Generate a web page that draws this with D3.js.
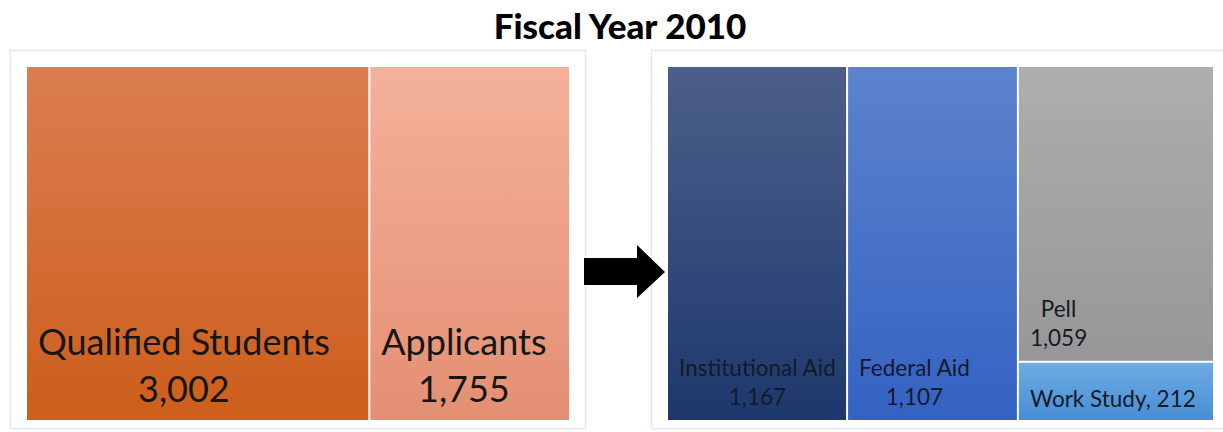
<!DOCTYPE html>
<html>
<head>
<meta charset="utf-8">
<script src="https://cdn.jsdelivr.net/npm/d3@7"></script>
<style>
  html, body { margin: 0; padding: 0; background: #ffffff; }
  svg { display: block; }
</style>
</head>
<body>
<svg id="chart" width="1223" height="432"></svg>
<script>
// Fiscal year 2010: students and the aid they received
const titleText = "Fiscal Year 2010";

const studentNames  = ["Qualified Students", "Applicants"];
const studentValues = [3002, 1755];
const studentTop    = ["#db7d51", "#f4b19a"];
const studentBottom = ["#cd5e1b", "#e48f73"];

const aidNames  = ["Institutional Aid", "Federal Aid", "Pell", "Work Study"];
const aidValues = [1167, 1107, 1059, 212];
const aidGroup  = [null, null, "Grants", "Grants"];   // Pell and Work Study share a column
const aidTop    = ["#4c5f8a", "#5d83cc", "#aeaeae", "#6eace4"];
const aidBottom = ["#1d386d", "#3462c3", "#979797", "#478dd5"];

const fmt = d3.format(",");
const svg = d3.select("#chart");
const defs = svg.append("defs");

// Title
svg.append("text")
  .attr("x", 620).attr("y", 39)
  .attr("text-anchor", "middle")
  .style("font-family", "Lato, 'Noto Sans', sans-serif")
  .style("font-weight", 900)
  .style("font-size", "35px")
  .attr("fill", "#000")
  .text(titleText);

// Panel frames
const panels = [
  { x: 10, y: 50, w: 575, h: 378 },
  { x: 651, y: 50, w: 580, h: 378 }
];
svg.selectAll("rect.panel").data(panels).join("rect")
  .attr("class", "panel")
  .attr("x", d => d.x + 0.5).attr("y", d => d.y + 0.5)
  .attr("width", d => d.w).attr("height", d => d.h)
  .attr("fill", "#fff").attr("stroke", "#e3e7ee").attr("stroke-width", 1.5);

function gradient(id, top, bottom) {
  const g = defs.append("linearGradient").attr("id", id)
    .attr("x1", 0).attr("y1", 0).attr("x2", 0).attr("y2", 1);
  g.append("stop").attr("offset", "0%").attr("stop-color", top);
  g.append("stop").attr("offset", "100%").attr("stop-color", bottom);
  return `url(#${id})`;
}

// Columns first, then stacked rows inside a group
function tile(node, x0, y0, x1, y1) {
  if (node.depth === 0) d3.treemapDice(node, x0, y0, x1, y1);
  else d3.treemapSlice(node, x0, y0, x1, y1);
}

// ---- Left treemap: qualified students vs applicants
const studentRoot = d3.hierarchy({
  children: studentNames.map((n, i) => ({ name: n, value: studentValues[i], i }))
}).sum(d => d.value || 0);

d3.treemap().size([542, 353]).paddingInner(2).tile(tile)(studentRoot);

const gLeft = svg.append("g").attr("transform", "translate(27,67)");
const leftCells = gLeft.selectAll("g").data(studentRoot.leaves()).join("g")
  .attr("transform", d => `translate(${d.x0},${d.y0})`);

leftCells.append("rect")
  .attr("width", d => d.x1 - d.x0).attr("height", d => d.y1 - d.y0)
  .attr("fill", d => gradient("gs" + d.data.i, studentTop[d.data.i], studentBottom[d.data.i]));

const bigFont = { family: "Lato, 'Noto Sans', sans-serif", size: 36 };
leftCells.each(function(d) {
  const g = d3.select(this);
  const h = d.y1 - d.y0;
  const t = g.append("text")
    .style("font-family", bigFont.family)
    .style("font-size", bigFont.size + "px")
    .attr("fill", "#161616")
    .attr("text-anchor", "middle");
  const name = t.append("tspan").attr("y", h - 65).text(d.data.name);
  const w = name.node().getComputedTextLength();
  const cx = 11 + w / 2;
  name.attr("x", cx);
  t.append("tspan").attr("x", cx).attr("y", h - 18).text(fmt(d.data.value));
});

// ---- Right treemap: aid breakdown
const aidChildren = [];
aidNames.forEach((n, i) => {
  const leaf = { name: n, value: aidValues[i], i };
  if (aidGroup[i]) {
    let grp = aidChildren.find(c => c.name === aidGroup[i]);
    if (!grp) { grp = { name: aidGroup[i], children: [] }; aidChildren.push(grp); }
    grp.children.push(leaf);
  } else aidChildren.push(leaf);
});
const aidRoot = d3.hierarchy({ children: aidChildren }).sum(d => d.value || 0);
d3.treemap().size([545, 353]).paddingInner(2).tile(tile)(aidRoot);

const gRight = svg.append("g").attr("transform", "translate(668,67)");
const rightCells = gRight.selectAll("g").data(aidRoot.leaves()).join("g")
  .attr("transform", d => `translate(${d.x0},${d.y0})`);

rightCells.append("rect")
  .attr("width", d => d.x1 - d.x0).attr("height", d => d.y1 - d.y0)
  .attr("fill", d => gradient("ga" + d.data.i, aidTop[d.data.i], aidBottom[d.data.i]));

const smallFont = { family: "Lato, 'Noto Sans', sans-serif", size: 22.5 };
rightCells.each(function(d) {
  const g = d3.select(this);
  const h = d.y1 - d.y0;
  const t = g.append("text")
    .style("font-family", smallFont.family)
    .style("font-size", smallFont.size + "px")
    .attr("fill", "#151a26");
  if (h < 80) {
    // short cell: one line
    t.attr("x", 11).attr("y", h - 13).text(`${d.data.name}, ${fmt(d.data.value)}`);
    return;
  }
  t.attr("text-anchor", "middle");
  const name = t.append("tspan").text(d.data.name);
  const val = t.append("tspan").text(fmt(d.data.value));
  const wn = name.node().getComputedTextLength();
  const wv = val.node().getComputedTextLength();
  const cx = 11 + Math.max(wn, wv) / 2;
  name.attr("x", cx).attr("y", h - 44);
  val.attr("x", cx).attr("y", h - 15);
});

// Arrow between the panels
const arrow = d3.path();
arrow.moveTo(584, 258);
arrow.lineTo(637, 258);
arrow.lineTo(637, 245);
arrow.lineTo(665, 272);
arrow.lineTo(637, 298);
arrow.lineTo(637, 285);
arrow.lineTo(584, 285);
arrow.closePath();
svg.append("path").attr("d", arrow.toString()).attr("fill", "#000");
</script>
</body>
</html>
